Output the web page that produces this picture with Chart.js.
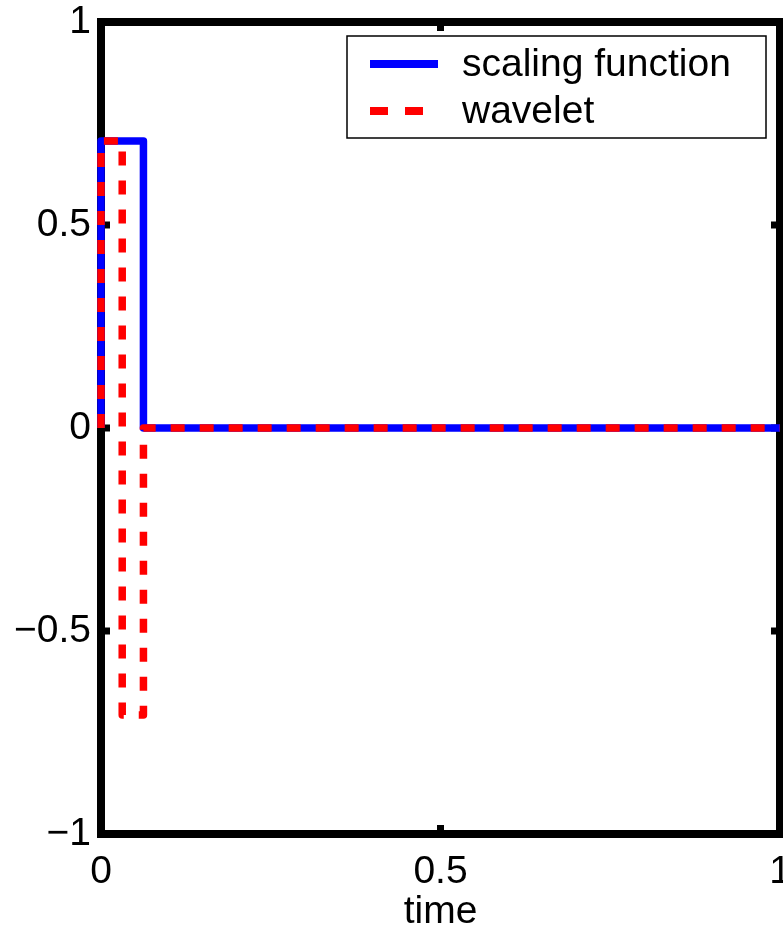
<!DOCTYPE html>
<html>
<head>
<meta charset="utf-8">
<script src="https://cdn.jsdelivr.net/npm/chart.js@4"></script>
<style>
  html, body { margin: 0; padding: 0; background: #fff; }
  #wrap { width: 783px; height: 927px; }
</style>
</head>
<body>
<div id="wrap"><canvas id="c" width="783" height="927"></canvas></div>
<script>
// Data (Haar scaling function and wavelet)
const scalingTime   = [0, 0, 0.0625, 0.0625, 1];
const scalingValues = [0, 0.7071, 0.7071, 0, 0];
const waveletTime   = [0, 0, 0.03125, 0.03125, 0.0625, 0.0625, 1];
const waveletValues = [0, 0.7071, 0.7071, -0.7071, -0.7071, 0, 0];
const seriesNames = ['scaling function', 'wavelet'];
const xTickValues = [0, 0.5, 1];
const xTickLabels = ['0', '0.5', '1'];
const yTickValues = [-1, -0.5, 0, 0.5, 1];
const yTickLabels = ['\u22121', '\u22120.5', '0', '0.5', '1'];
const xTitle = 'time';

const FONT = '"Liberation Sans", Arial, Helvetica, sans-serif';
const FSIZE = 39;

function toPts(xs, ys) { return xs.map((x, i) => ({ x: x, y: ys[i] })); }

const framePlugin = {
  id: 'frame',
  beforeDatasetsDraw(chart) {
    const { ctx, chartArea: a, scales } = chart;
    ctx.save();
    ctx.strokeStyle = '#000';
    ctx.lineWidth = 8;
    ctx.lineJoin = 'miter';
    ctx.strokeRect(a.left, a.top, a.right - a.left, a.bottom - a.top);
    const tl = 9;
    ctx.lineWidth = 7;
    ctx.beginPath();
    xTickValues.forEach(v => {
      const px = scales.x.getPixelForValue(v);
      ctx.moveTo(px, a.bottom); ctx.lineTo(px, a.bottom - tl);
      ctx.moveTo(px, a.top); ctx.lineTo(px, a.top + tl);
    });
    yTickValues.forEach(v => {
      const py = scales.y.getPixelForValue(v);
      ctx.moveTo(a.left, py); ctx.lineTo(a.left + tl, py);
      ctx.moveTo(a.right, py); ctx.lineTo(a.right - tl, py);
    });
    ctx.stroke();
    ctx.restore();
  }
};

const legendDash = [18, 17];
const legendPlugin = {
  id: 'boxLegend',
  afterDatasetsDraw(chart) {
    const { ctx } = chart;
    const bx = 347, by = 36, bw = 419, bh = 102;
    ctx.save();
    ctx.fillStyle = '#fff';
    ctx.fillRect(bx, by, bw, bh);
    ctx.strokeStyle = '#000';
    ctx.lineWidth = 1.5;
    ctx.strokeRect(bx, by, bw, bh);
    const rows = [64, 111];
    chart.data.datasets.forEach((ds, i) => {
      const y = rows[i];
      ctx.strokeStyle = ds.borderColor;
      ctx.lineWidth = 8;
      ctx.setLineDash(ds.borderDash ? legendDash : []);
      ctx.beginPath();
      ctx.moveTo(370, y);
      ctx.lineTo(438, y);
      ctx.stroke();
      ctx.setLineDash([]);
      ctx.fillStyle = '#000';
      ctx.font = FSIZE + 'px ' + FONT;
      ctx.textBaseline = 'middle';
      ctx.textAlign = 'left';
      ctx.fillText(ds.label, 462, y + 1);
    });
    ctx.restore();
  }
};

new Chart(document.getElementById('c'), {
  type: 'scatter',
  data: {
    datasets: [
      {
        label: seriesNames[0],
        data: toPts(scalingTime, scalingValues),
        showLine: true,
        borderColor: '#0000ff',
        backgroundColor: '#0000ff',
        borderWidth: 7.5,
        pointRadius: 0,
        borderJoinStyle: 'round',
        order: 2,
        clip: false
      },
      {
        label: seriesNames[1],
        data: toPts(waveletTime, waveletValues),
        showLine: true,
        borderColor: '#ff0000',
        backgroundColor: '#ff0000',
        borderWidth: 7.5,
        borderDash: [14, 15],
        pointRadius: 0,
        borderJoinStyle: 'round',
        order: 1,
        clip: false
      }
    ]
  },
  options: {
    responsive: false,
    animation: false,
    devicePixelRatio: 1,
    layout: { padding: { left: 0, right: 3, top: 22, bottom: 0 } },
    plugins: { legend: { display: false }, tooltip: { enabled: false } },
    scales: {
      x: {
        type: 'linear',
        min: 0, max: 1,
        afterBuildTicks(s) { s.ticks = xTickValues.map(v => ({ value: v })); },
        afterFit(s) { s.height = 93; s.paddingLeft = 0; s.paddingRight = 0; },
        grid: { display: false, drawTicks: false },
        border: { display: false },
        ticks: {
          padding: 15,
          maxRotation: 0,
          autoSkip: false,
          color: '#000',
          font: { family: FONT, size: FSIZE },
          callback(v) { const i = xTickValues.indexOf(v); return i >= 0 ? xTickLabels[i] : ''; }
        },
        title: {
          display: true,
          text: xTitle,
          color: '#000',
          font: { family: FONT, size: FSIZE, lineHeight: 1 },
          padding: { top: 0, bottom: -5 }
        }
      },
      y: {
        type: 'linear',
        min: -1, max: 1,
        afterBuildTicks(s) { s.ticks = yTickValues.map(v => ({ value: v })); },
        afterFit(s) { s.width = 101; s.paddingTop = 0; s.paddingBottom = 0; },
        grid: { display: false, drawTicks: false },
        border: { display: false },
        ticks: {
          padding: 10,
          autoSkip: false,
          color: '#000',
          font: { family: FONT, size: FSIZE },
          callback(v) { const i = yTickValues.indexOf(v); return i >= 0 ? yTickLabels[i] : ''; }
        }
      }
    }
  },
  plugins: [framePlugin, legendPlugin]
});
</script>
</body>
</html>
